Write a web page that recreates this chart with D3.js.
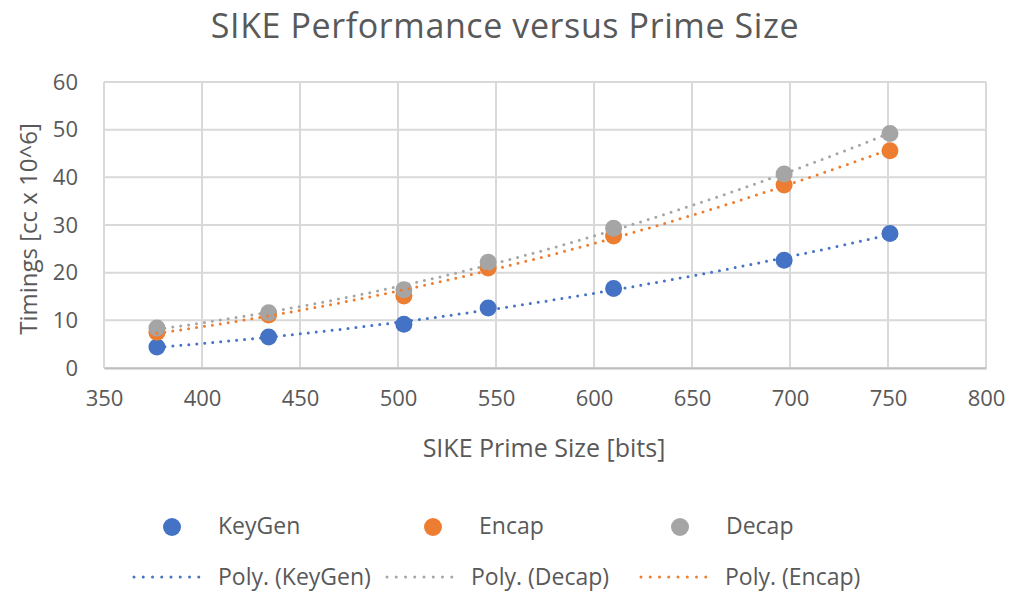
<!DOCTYPE html>
<html>
<head>
<meta charset="utf-8">
<script src="https://cdn.jsdelivr.net/npm/d3@7"></script>
<style>
  body { margin: 0; background: #fff; }
  svg text { font-family: "Open Sans", "Noto Sans", sans-serif; fill: #595959; }
</style>
</head>
<body>
<div id="container"></div>
<script>
// prime sizes (bits) and timings in cc x 10^6
var primeSizes = [377, 434, 503, 546, 610, 697, 751];
var keyGen = [4.4, 6.5, 9.2, 12.6, 16.7, 22.6, 28.2];
var encap = [7.5, 11.1, 15.1, 21.0, 27.7, 38.4, 45.6];
var decap = [8.4, 11.6, 16.4, 22.2, 29.3, 40.7, 49.2];

var xTicks = [350, 400, 450, 500, 550, 600, 650, 700, 750, 800];
var yTicks = [0, 10, 20, 30, 40, 50, 60];

var seriesNames = ["KeyGen", "Encap", "Decap"];
var seriesColors = ["#4472C4", "#ED7D31", "#A5A5A5"];
var seriesValues = [keyGen, encap, decap];

var width = 1013, height = 593;
var margin = {top: 82, right: 27, bottom: 225, left: 104};

var svg = d3.select("#container").append("svg")
    .attr("width", width)
    .attr("height", height);

var x = d3.scaleLinear().domain([350, 800]).range([margin.left, width - margin.right]);
var y = d3.scaleLinear().domain([0, 60]).range([height - margin.bottom, margin.top]);

// gridlines
svg.append("g").selectAll("line.h")
    .data(yTicks).enter().append("line")
    .attr("x1", x(350)).attr("x2", x(800))
    .attr("y1", function(d) { return y(d); })
    .attr("y2", function(d) { return y(d); })
    .attr("stroke", "#d9d9d9").attr("stroke-width", 2);
svg.append("g").selectAll("line.v")
    .data(xTicks).enter().append("line")
    .attr("x1", function(d) { return x(d); })
    .attr("x2", function(d) { return x(d); })
    .attr("y1", y(0)).attr("y2", y(60))
    .attr("stroke", "#d9d9d9").attr("stroke-width", 2);

// axes
var xAxis = svg.append("g")
    .attr("transform", "translate(0," + y(0) + ")")
    .call(d3.axisBottom(x).tickValues(xTicks).tickSize(0).tickPadding(22));
xAxis.select(".domain").attr("stroke", "#bfbfbf").attr("stroke-width", 2);
xAxis.selectAll("text").style("font-size", "22px").attr("fill", "#595959");

var yAxis = svg.append("g")
    .attr("transform", "translate(" + x(350) + ",0)")
    .call(d3.axisLeft(y).tickValues(yTicks).tickSize(0).tickPadding(26));
yAxis.select(".domain").remove();
yAxis.selectAll("text").style("font-size", "22px").attr("fill", "#595959");

// title and axis labels
svg.append("text")
    .attr("x", 505).attr("y", 38)
    .attr("text-anchor", "middle")
    .style("font-size", "34px")
    .style("letter-spacing", "0.6px")
    .text("SIKE Performance versus Prime Size");

svg.append("text")
    .attr("x", 544).attr("y", 448).attr("dy", "0.35em")
    .attr("text-anchor", "middle")
    .style("font-size", "25px")
    .text("SIKE Prime Size [bits]");

svg.append("text")
    .attr("transform", "translate(29,229) rotate(-90)")
    .attr("dy", "0.35em")
    .attr("text-anchor", "middle")
    .style("font-size", "24px")
    .text("Timings [cc x 10^6]");

// least squares fit of order 2, like the spreadsheet trendline
function polyFit(xs, ys) {
    var n = xs.length, s = [0, 0, 0, 0, 0], t = [0, 0, 0];
    for (var i = 0; i < n; i++) {
        var p = 1;
        for (var k = 0; k < 5; k++) {
            s[k] += p;
            if (k < 3) t[k] += p * ys[i];
            p *= xs[i];
        }
    }
    var m = [[s[0], s[1], s[2], t[0]], [s[1], s[2], s[3], t[1]], [s[2], s[3], s[4], t[2]]];
    for (var c = 0; c < 3; c++) {
        for (var r = c + 1; r < 3; r++) {
            var f = m[r][c] / m[c][c];
            for (var j = c; j < 4; j++) m[r][j] -= f * m[c][j];
        }
    }
    var a = [0, 0, 0];
    for (var r2 = 2; r2 >= 0; r2--) {
        var v = m[r2][3];
        for (var j2 = r2 + 1; j2 < 3; j2++) v -= m[r2][j2] * a[j2];
        a[r2] = v / m[r2][r2];
    }
    return function(xv) { return a[0] + a[1] * xv + a[2] * xv * xv; };
}

// markers
seriesValues.forEach(function(vals, si) {
    svg.append("g").selectAll("circle")
        .data(vals).enter().append("circle")
        .attr("cx", function(d, i) { return x(primeSizes[i]); })
        .attr("cy", function(d) { return y(d); })
        .attr("r", 8.5)
        .attr("fill", seriesColors[si]);
});

// trendlines
var line = d3.line()
    .x(function(d) { return x(d[0]); })
    .y(function(d) { return y(d[1]); });

[0, 2, 1].forEach(function(si) {
    var fit = polyFit(primeSizes, seriesValues[si]);
    var pts = d3.range(primeSizes[0], primeSizes[primeSizes.length - 1] + 0.1, 2)
        .map(function(v) { return [v, fit(v)]; });
    svg.append("path")
        .attr("d", line(pts))
        .attr("fill", "none")
        .attr("stroke", seriesColors[si])
        .attr("stroke-width", 3)
        .attr("stroke-linecap", "round")
        .attr("stroke-dasharray", "0,8");
});

// legend
var legend1 = [
    {name: "KeyGen", color: seriesColors[0], cx: 172},
    {name: "Encap", color: seriesColors[1], cx: 433},
    {name: "Decap", color: seriesColors[2], cx: 680}
];
legend1.forEach(function(d) {
    svg.append("circle").attr("cx", d.cx).attr("cy", 527).attr("r", 9).attr("fill", d.color);
    svg.append("text").attr("x", d.cx + 46).attr("y", 526).attr("dy", "0.35em")
        .style("font-size", "23px").text(d.name);
});

var legend2 = [
    {name: "Poly. (KeyGen)", color: seriesColors[0], x0: 134},
    {name: "Poly. (Decap)", color: seriesColors[2], x0: 387},
    {name: "Poly. (Encap)", color: seriesColors[1], x0: 641}
];
legend2.forEach(function(d) {
    svg.append("line")
        .attr("x1", d.x0).attr("x2", d.x0 + 74)
        .attr("y1", 577).attr("y2", 577)
        .attr("stroke", d.color).attr("stroke-width", 3)
        .attr("stroke-linecap", "round").attr("stroke-dasharray", "0,9.25");
    svg.append("text").attr("x", d.x0 + 84).attr("y", 577).attr("dy", "0.35em")
        .style("font-size", "23px").text(d.name);
});
</script>
</body>
</html>
